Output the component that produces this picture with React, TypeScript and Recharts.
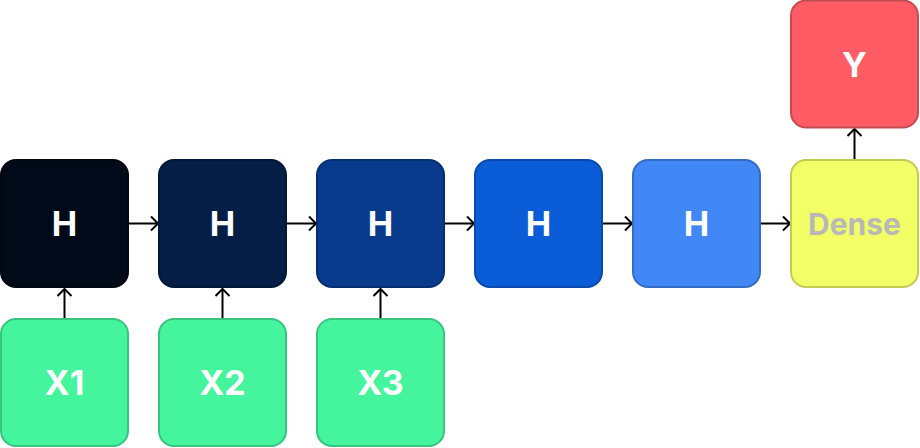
import React from 'react';
import { ComposedChart, Scatter, Line, XAxis, YAxis } from 'recharts';

const nodeLabels = ['Y', 'H', 'H', 'H', 'H', 'H', 'Dense', 'X1', 'X2', 'X3'];
const nodeX = [854.5, 64.5, 222.5, 380.5, 538.5, 696.5, 854.5, 64.5, 222.5, 380.5];
const nodeY = [64, 223.5, 223.5, 223.5, 223.5, 223.5, 223.5, 382.5, 382.5, 382.5];
const nodeFill = ['#ff5c66', '#000a19', '#041e45', '#083b8c', '#0b5cd7', '#4187f5', '#f2ff66', '#44f59d', '#44f59d', '#44f59d'];
const nodeStroke = ['#c44b52', '#00060f', '#031838', '#062f70', '#094aac', '#346cc4', '#c2cc52', '#36c47e', '#36c47e', '#36c47e'];
const nodeText = ['#ffffff', '#ffffff', '#ffffff', '#ffffff', '#ffffff', '#ffffff', '#b8b8b8', '#ffffff', '#ffffff', '#ffffff'];

// edges: [x1, y1, x2, y2]
const edges = [
  [129, 223.5, 158, 223.5],
  [287, 223.5, 316, 223.5],
  [445, 223.5, 474, 223.5],
  [603, 223.5, 632, 223.5],
  [761, 223.5, 790, 223.5],
  [64.5, 318, 64.5, 289],
  [222.5, 318, 222.5, 289],
  [380.5, 318, 380.5, 289],
  [854.5, 159, 854.5, 129],
];

const nodes = nodeLabels.map((label, i) => ({
  x: nodeX[i], y: nodeY[i], label, fill: nodeFill[i], stroke: nodeStroke[i], text: nodeText[i],
}));

const Box = (props: any) => {
  const { cx, cy, payload } = props;
  const s = 127;
  return (
    <g>
      <rect x={cx - s / 2} y={cy - s / 2} width={s} height={s} rx={15} ry={15}
        fill={payload.fill} stroke={payload.stroke} strokeWidth={2} />
      <text x={cx} y={cy} textAnchor="middle" dominantBaseline="central"
        fontFamily="Inter, 'Noto Sans', sans-serif" fontWeight={700} fontSize={payload.label === 'Dense' ? 30 : 34}
        fill={payload.text}>{payload.label}</text>
    </g>
  );
};

const makeArrow = (horizontal: boolean) => (props: any) => {
  const { cx, cy, index } = props;
  if (index !== 1) return <g key={index} />;
  const a = 7;
  const d = horizontal
    ? `M${cx - a},${cy - a} L${cx},${cy} L${cx - a},${cy + a}`
    : `M${cx - a},${cy + a} L${cx},${cy} L${cx + a},${cy + a}`;
  return <path key={index} d={d} fill="none" stroke="#000" strokeWidth={2} />;
};

export default function App() {
  return (
    <div>
      <style>{`body{margin:0}`}</style>
      <ComposedChart width={920} height={448} margin={{ top: 0, right: 0, bottom: 0, left: 0 }}>
        <XAxis type="number" dataKey="x" domain={[0, 920]} hide allowDataOverflow />
        <YAxis type="number" dataKey="y" domain={[0, 448]} reversed hide allowDataOverflow />
        {edges.map((e, i) => (
          <Line key={i} data={[{ x: e[0], y: e[1] }, { x: e[2], y: e[3] }]} dataKey="y"
            stroke="#000" strokeWidth={2} isAnimationActive={false}
            dot={makeArrow(e[1] === e[3])} activeDot={false} legendType="none" />
        ))}
        <Scatter data={nodes} shape={Box} isAnimationActive={false} />
      </ComposedChart>
    </div>
  );
}
